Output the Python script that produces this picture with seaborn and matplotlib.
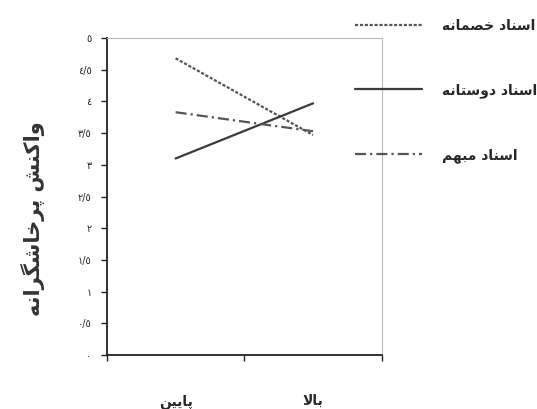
import numpy as np
import pandas as pd
import seaborn as sns
import matplotlib.pyplot as plt
from matplotlib.ticker import FixedLocator

# data
levels = ['پایین', 'بالا']
groups = ['اسناد خصمانه', 'اسناد دوستانه', 'اسناد مبهم']
hostile = [4.68, 3.47]
friendly = [3.10, 3.97]
ambiguous = [3.83, 3.53]
ytick_vals = [0, 0.5, 1, 1.5, 2, 2.5, 3, 3.5, 4, 4.5, 5]
ytick_labels = ['٠', '٠/٥', '١', '١/٥', '٢', '٢/٥', '٣', '٣/٥', '٤', '٤/٥', '٥']
ylabel = 'واکنش پرخاشگرانه'

# matplotlib has no arabic shaping, so pick presentation forms by hand
FORMS = {
  'ا': (0xFE8D, 0xFE8E, None, None),
  'ب': (0xFE8F, 0xFE90, 0xFE91, 0xFE92),
  'ت': (0xFE95, 0xFE96, 0xFE97, 0xFE98),
  'خ': (0xFEA5, 0xFEA6, 0xFEA7, 0xFEA8),
  'د': (0xFEA9, 0xFEAA, None, None),
  'ر': (0xFEAD, 0xFEAE, None, None),
  'س': (0xFEB1, 0xFEB2, 0xFEB3, 0xFEB4),
  'ش': (0xFEB5, 0xFEB6, 0xFEB7, 0xFEB8),
  'ص': (0xFEB9, 0xFEBA, 0xFEBB, 0xFEBC),
  'ل': (0xFEDD, 0xFEDE, 0xFEDF, 0xFEE0),
  'م': (0xFEE1, 0xFEE2, 0xFEE3, 0xFEE4),
  'ن': (0xFEE5, 0xFEE6, 0xFEE7, 0xFEE8),
  'ه': (0xFEE9, 0xFEEA, 0xFEEB, 0xFEEC),
  'و': (0xFEED, 0xFEEE, None, None),
  'پ': (0xFB56, 0xFB57, 0xFB58, 0xFB59),
  'ک': (0xFB8E, 0xFB8F, 0xFB90, 0xFB91),
  'گ': (0xFB92, 0xFB93, 0xFB94, 0xFB95),
  'ی': (0xFBFC, 0xFBFD, 0xFBFE, 0xFBFF),
  '\uFEFB': (0xFEFB, 0xFEFC, None, None),
}

def joins_left(c):
  return c in FORMS and FORMS[c][2] is not None

def shape(s):
  s = s.replace('لا', '\uFEFB')
  out = []
  for i, c in enumerate(s):
    if c not in FORMS:
      out.append(c)
      continue
    prev = s[i-1] if i > 0 else ''
    nxt = s[i+1] if i + 1 < len(s) else ''
    jp = joins_left(prev)
    jn = joins_left(c) and nxt in FORMS
    iso, fin, ini, med = FORMS[c]
    if jp and jn:
      out.append(chr(med))
    elif jp:
      out.append(chr(fin))
    elif jn:
      out.append(chr(ini))
    else:
      out.append(chr(iso))
  return ''.join(reversed(out))

df = pd.DataFrame({
  'level': levels * 3,
  'value': hostile + friendly + ambiguous,
  'group': [g for g in groups for _ in levels],
})

sns.set_style('white')
plt.rcParams['font.family'] = ['DejaVu Sans']

fig = plt.figure(figsize=(5.37, 4.09), dpi=100)
ax = fig.add_axes([0.199, 0.132, 0.512, 0.775])

palette = {groups[0]: '#555555', groups[1]: '#3a3a3a', groups[2]: '#555555'}
dashes = {groups[0]: (1.4, 0.8), groups[1]: '', groups[2]: (5, 1.8, 1, 1.8)}
sns.lineplot(data=df, x='level', y='value', hue='group', style='group',
             palette=palette, dashes=dashes, linewidth=1.6, ax=ax)

ax.set_xlim(-0.5, 1.5)
ax.set_ylim(0, 5)
ax.set_xticks([0, 1])
ax.set_xticklabels([shape(l) for l in levels], fontsize=10, fontweight='bold')
ax.tick_params(axis='x', which='major', length=0, pad=28)
ax.xaxis.set_minor_locator(FixedLocator([-0.5, 0.5, 1.5]))
ax.tick_params(axis='x', which='minor', bottom=True, length=4, width=1, color='#222222')
ax.set_yticks(ytick_vals)
ax.set_yticklabels(ytick_labels, fontsize=7)
ax.tick_params(axis='y', left=True, length=4, width=1, color='#222222', pad=7)
ax.set_xlabel('')
ax.set_ylabel(shape(ylabel), fontsize=15, fontweight='bold', color='#333333')
ax.yaxis.set_label_coords(-0.225, 0.43)

for s in ['left', 'bottom']:
  ax.spines[s].set_color('#222222')
  ax.spines[s].set_linewidth(1.3)
for s in ['top', 'right']:
  ax.spines[s].set_color('#bbbbbb')
  ax.spines[s].set_linewidth(0.8)

handles, labels = ax.get_legend_handles_labels()
ax.legend(handles, [shape(l) for l in labels], loc='upper left',
          bbox_to_anchor=(0.662, 0.953), bbox_transform=fig.transFigure,
          frameon=False, prop={'weight': 'bold', 'size': 10},
          handlelength=4.8, handletextpad=1.4, labelspacing=3.6,
          borderpad=0, borderaxespad=0)

fig.savefig('out.png', dpi=100)
